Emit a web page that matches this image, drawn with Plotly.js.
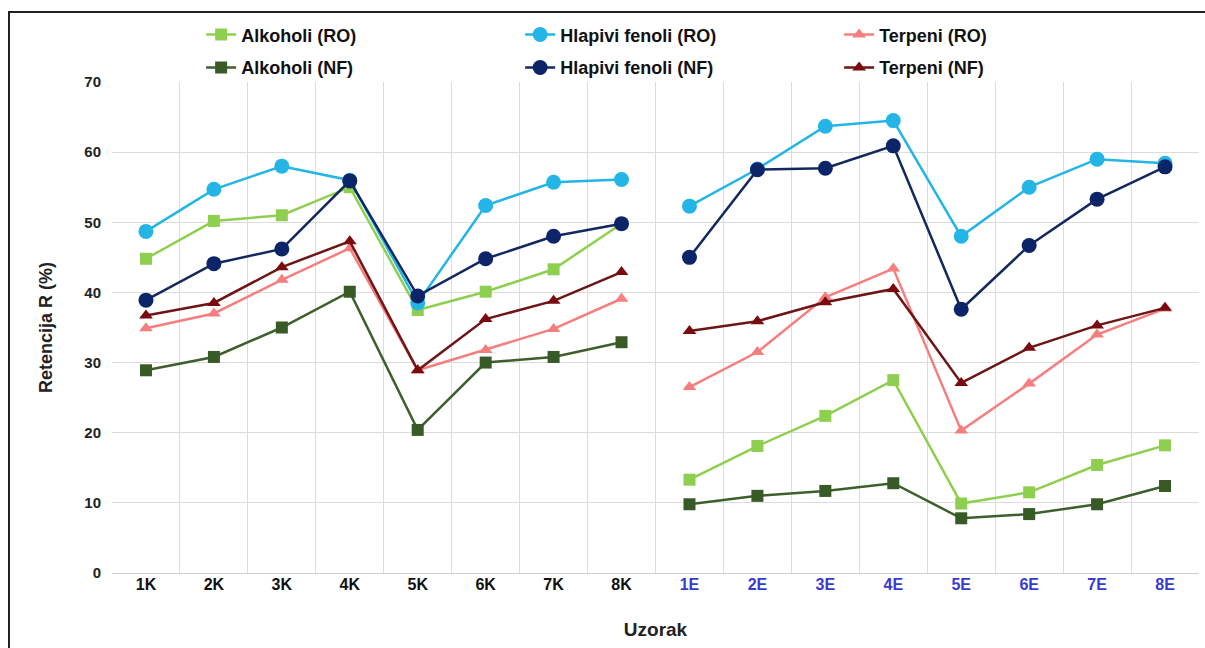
<!DOCTYPE html>
<html>
<head>
<meta charset="utf-8">
<script src="https://cdn.plot.ly/plotly-3.0.1.min.js"></script>
<style>
html,body{margin:0;padding:0;background:#fff;overflow:hidden;}
#chart{width:1205px;height:648px;position:absolute;left:0;top:0;}
#frame{position:absolute;left:8px;top:11px;width:1300px;height:700px;border-left:2px solid #222;border-top:2px solid #222;pointer-events:none;}
</style>
</head>
<body>
<div id="chart"></div>
<div id="frame"></div>
<script>
const catsK = ["1K","2K","3K","4K","5K","6K","7K","8K"];
const catsE = ["1E","2E","3E","4E","5E","6E","7E","8E"];

const alkRO_K = [44.8, 50.2, 51.0, 55.0, 37.5, 40.1, 43.3, 49.8];
const alkRO_E = [13.3, 18.1, 22.4, 27.5, 9.9, 11.5, 15.4, 18.2];
const alkNF_K = [28.9, 30.8, 35.0, 40.1, 20.4, 30.0, 30.8, 32.9];
const alkNF_E = [9.8, 11.0, 11.7, 12.8, 7.8, 8.4, 9.8, 12.4];
const hfRO_K = [48.7, 54.7, 58.0, 56.0, 38.5, 52.4, 55.7, 56.1];
const hfRO_E = [52.3, 57.6, 63.7, 64.5, 48.0, 55.0, 59.0, 58.4];
const hfNF_K = [38.9, 44.1, 46.2, 55.9, 39.5, 44.8, 48.0, 49.8];
const hfNF_E = [45.0, 57.5, 57.7, 60.9, 37.6, 46.7, 53.3, 57.9];
const terRO_K = [34.9, 37.0, 41.8, 46.3, 28.9, 31.8, 34.8, 39.1];
const terRO_E = [26.5, 31.5, 39.3, 43.4, 20.3, 27.0, 34.0, 37.7];
const terNF_K = [36.7, 38.5, 43.6, 47.3, 28.9, 36.2, 38.8, 42.9];
const terNF_E = [34.5, 35.9, 38.6, 40.5, 27.1, 32.1, 35.3, 37.8];

const allCats = catsK.concat(catsE);
const tickText = catsK.map(c => '<span style="color:#111">' + c + '</span>')
  .concat(catsE.map(c => '<span style="color:#3a3ad0">' + c + '</span>'));

const series = [
  {name:"Alkoholi (RO)", k:alkRO_K, e:alkRO_E, color:"#8fcf4f", line:"#8fcf4f", sym:"square", size:12, legend:"legend"},
  {name:"Hlapivi fenoli (RO)", k:hfRO_K, e:hfRO_E, color:"#22b5e6", line:"#22b5e6", sym:"circle", size:15, legend:"legend"},
  {name:"Terpeni (RO)", k:terRO_K, e:terRO_E, color:"#f57f7f", line:"#f57f7f", sym:"triangle-up", size:12, legend:"legend"},
  {name:"Alkoholi (NF)", k:alkNF_K, e:alkNF_E, color:"#385a26", line:"#3d5f2c", sym:"square", size:12, legend:"legend2"},
  {name:"Hlapivi fenoli (NF)", k:hfNF_K, e:hfNF_E, color:"#0b2568", line:"#13295e", sym:"circle", size:15, legend:"legend2"},
  {name:"Terpeni (NF)", k:terNF_K, e:terNF_E, color:"#7a0a0e", line:"#6e1515", sym:"triangle-up", size:12, legend:"legend2"}
];

const traces = [];
series.forEach((s, i) => {
  [[catsK, s.k, true], [catsE, s.e, false]].forEach(([xs, ys, show]) => {
    traces.push({
      x: xs, y: ys, type: "scatter", mode: "lines+markers",
      name: s.name, legendgroup: s.name, showlegend: show, legend: s.legend,
      line: {color: s.line, width: 2.5},
      marker: {color: s.color, symbol: s.sym, size: s.size, line: {width: 0}},
      hoverinfo: "x+y"
    });
  });
});

const legendCommon = {
  orientation: "h", xanchor: "left", yanchor: "middle",
  font: {family: "Liberation Sans, Arial, sans-serif", size: 18, color: "#111", weight: "bold"},
  entrywidth: 274, entrywidthmode: "pixels", itemwidth: 30,
  bgcolor: "rgba(0,0,0,0)", traceorder: "normal"
};

const layout = {
  width: 1205, height: 648,
  margin: {l: 112, r: 6, t: 82, b: 75},
  paper_bgcolor: "#fff", plot_bgcolor: "#fff",
  font: {family: "Liberation Sans, Arial, sans-serif", color: "#222"},
  xaxis: {
    type: "category", categoryorder: "array", categoryarray: allCats,
    tickvals: allCats, ticktext: tickText,
    tickson: "boundaries", showgrid: true, gridcolor: "#dcdcdc", gridwidth: 1,
    ticks: "", showline: false, zeroline: false,
    tickfont: {size: 16, weight: "bold", family: "Liberation Sans, Arial, sans-serif"},
    title: {text: "Uzorak", font: {size: 19, weight: "bold", color: "#222"}, standoff: 30},
    range: [-0.5, 15.5]
  },
  yaxis: {
    range: [0, 70], dtick: 10, tick0: 0,
    showgrid: true, gridcolor: "#dcdcdc", gridwidth: 1,
    zeroline: true, zerolinecolor: "#d0d0d0", zerolinewidth: 1,
    ticks: "", showline: false,
    tickfont: {size: 15, weight: "bold", color: "#222"},
    ticklabelstandoff: 10,
    title: {text: "Retencija R (%)", font: {size: 18, weight: "bold", color: "#222"}, standoff: 27}
  },
  legend: Object.assign({}, legendCommon, {x: 0.082, y: 1.096}),
  legend2: Object.assign({}, legendCommon, {x: 0.082, y: 1.029}),
  showlegend: true
};

Plotly.newPlot("chart", traces, layout, {displayModeBar: false, staticPlot: true});
</script>
</body>
</html>
